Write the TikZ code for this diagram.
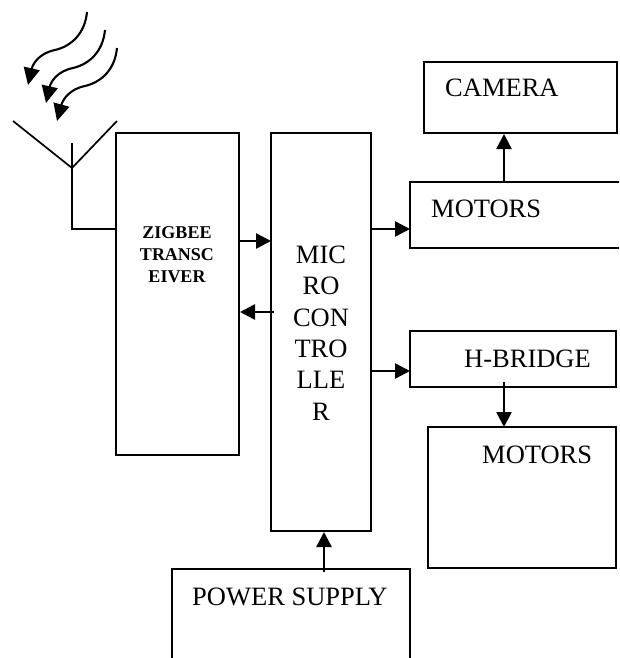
\documentclass[tikz,border=0pt]{standalone}
\usepackage{fontspec}
\setmainfont{Liberation Serif}
\usetikzlibrary{arrows.meta}
\tikzset{
  line/.style={draw=black,line width=1.7pt},
  conn/.style={draw=black,line width=2.5pt,-{Triangle[length=15pt,width=15pt]}},
  wave/.style={draw=black,line width=2.1pt,-{Triangle[length=17pt,width=16pt]}},
  lab/.style={font=\fontsize{26.5}{30}\selectfont,inner sep=0pt,anchor=base west},
}
\begin{document}
\begin{tikzpicture}[x=1pt,y=-1pt]
\useasboundingbox (0,0) rectangle (619,658);
\fill[white] (0,0) rectangle (619,658);
% boxes
\draw[line] (424,62) rectangle (617,133);
\draw[line] (619,182) -- (410,182) -- (410,248) -- (619,248);
\draw[line] (116,133) rectangle (239,455);
\draw[line] (271,133) rectangle (371,531);
\draw[line] (410,331) rectangle (616,387);
\draw[line] (428,427) rectangle (616,568);
\draw[line] (172,658) -- (172,569) -- (410,569) -- (410,658);
% anchors
\coordinate (ctop) at (504,134);
\coordinate (mtop) at (504,182);
\coordinate (zr) at (239,241);
\coordinate (ml) at (271,241);
\coordinate (ml2) at (274,312);
\coordinate (zr2) at (240,312);
\coordinate (mr) at (372,229);
\coordinate (mol) at (410,229);
\coordinate (mr2) at (372,371);
\coordinate (hl) at (410,371);
\coordinate (hb) at (504,382);
\coordinate (m2t) at (504,427);
\coordinate (pt) at (324,572);
\coordinate (mb) at (324,532);
\coordinate (af) at (72,168);
\coordinate (al) at (13,121);
\coordinate (ar) at (117,121);
\coordinate (as) at (72,143);
\coordinate (ab) at (72,229);
\coordinate (az) at (116,229);
% connectors
\draw[conn] (mtop) -- (ctop);
\draw[conn] (zr) -- (ml);
\draw[conn] (ml2) -- (zr2);
\draw[conn] (mr) -- (mol);
\draw[conn] (mr2) -- (hl);
\draw[conn] (hb) -- (m2t);
\draw[conn] (pt) -- (mb);
% antenna
\draw[line] (al) -- (af) -- (ar);
\draw[line] (as) -- (ab) -- (az);
% waves
\draw[wave] (87,12) .. controls (85,33) and (72,46) .. (55,50) .. controls (40,53) and (33,63) .. (28,85);
\draw[wave] (105,30) .. controls (103,51) and (90,64) .. (73,68) .. controls (58,71) and (51,81) .. (46,103);
\draw[wave] (117,48) .. controls (115,69) and (102,82) .. (85,86) .. controls (70,89) and (63,99) .. (57,121);
% labels
\node[lab] (cam) at (445,97) {CAMERA};
\node[lab] (mot) at (431,217) {MOTORS};
\node[lab] (hbr) at (464,367) {H-BRIDGE};
\node[lab] (mot2) at (482,463) {MOTORS};
\node[lab] (pow) at (192,605) {POWER SUPPLY};
\node[font=\fontsize{18}{22}\selectfont\bfseries,align=center,inner sep=0pt,anchor=north] (zb) at (177,226) {ZIGBEE\\TRANSC\\EIVER};
\node[font=\fontsize{26.5}{31.4}\selectfont,align=center,inner sep=0pt,anchor=north] (mc) at (321,245.5) {MIC\\RO\\CON\\TRO\\LLE\\R};
\end{tikzpicture}
\end{document}
